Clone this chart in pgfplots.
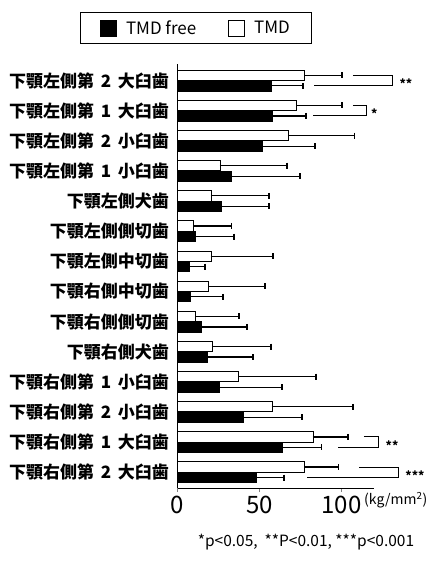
\documentclass[border=0pt]{standalone}
\usepackage{fontspec}
\setmainfont{Noto Sans CJK JP}
\usepackage{pgfplots}
\usepackage{pgfplotstable}
\pgfplotsset{compat=1.18}
% y = category position (0 = bottom) minus/plus half a bar
\pgfplotstableread{
y v e
12.825 57.4 19.1
11.825 57.6 20.8
10.825 52.0 31.8
9.825 33.0 41.7
8.825 27.0 28.8
7.825 10.7 23.8
6.825 7.0 9.8
5.825 8.2 19.6
4.825 14.3 28.1
3.825 18.0 28.0
2.825 25.3 38.4
1.825 40.0 36.0
0.825 63.7 24.3
-0.175 47.9 17.0
}\tmdfree
\pgfplotstableread{
y v e
13.175 77.7 22.6
12.175 72.3 28.0
11.175 67.4 40.6
10.175 25.9 40.9
9.175 20.4 35.4
8.175 9.5 23.5
7.175 20.4 37.8
6.175 18.6 34.8
5.175 10.7 26.8
4.175 21.6 35.4
3.175 37.0 47.5
2.175 57.6 49.4
1.175 82.6 21.4
0.175 77.7 20.3
}\tmd
\newcommand{\gap}{\hspace{0.4em}}
\begin{document}
\begin{tikzpicture}
\useasboundingbox (0pt,0pt) rectangle (432pt,562pt);
\begin{axis}[
 at={(177.5pt,74pt)}, anchor=south west, scale only axis,
 width=196.8pt, height=424pt,
 xmin=0, xmax=120, ymin=-0.52, ymax=13.55,
 clip=false,
 axis x line=bottom, axis y line=left,
 axis line style={-, line width=1pt},
 xtick={0,50,100}, ytick={0,...,13},
 tick align=outside, major tick length=4pt,
 xtick style={line width=0.8pt},
 ytick style={draw=none},
 /pgf/number format/assume math mode=true,
 xticklabel style={font=\fontsize{24}{26}\selectfont, yshift=-1pt},
 yticklabel style={font=\fontsize{17}{18}\selectfont\bfseries, xshift=-1pt},
 yticklabels={
  下顎右側第\gap 2\gap 大臼歯,
  下顎右側第\gap 1\gap 大臼歯,
  下顎右側第\gap 2\gap 小臼歯,
  下顎右側第\gap 1\gap 小臼歯,
  下顎右側犬歯,
  下顎右側側切歯,
  下顎右側中切歯,
  下顎左側中切歯,
  下顎左側側切歯,
  下顎左側犬歯,
  下顎左側第\gap 1\gap 小臼歯,
  下顎左側第\gap 2\gap 小臼歯,
  下顎左側第\gap 1\gap 大臼歯,
  下顎左側第\gap 2\gap 大臼歯},
 legend columns=2,
 legend style={at={(0.094,1.085)}, anchor=center, draw=black, line width=0.9pt,
   font=\fontsize{17}{20}\selectfont, inner xsep=20pt, inner ysep=6pt,
   /tikz/every even column/.append style={column sep=30pt}},
 legend image code/.code={\draw[#1, line width=0.9pt] (0pt,-8pt) rectangle (16pt,8pt); \path (23pt,0pt);},
]
\addplot[xbar, bar width=0.34, bar shift=0, fill=black, draw=black, line width=0.9pt,
  error bars/.cd, x dir=plus, x explicit, error mark=|,
  error bar style={line width=1.2pt, black},
  error mark options={line width=1.3pt, mark size=3pt, black}]
  table[x=v, y=y, x error=e]{\tmdfree};
\addlegendentry{TMD free}
\addplot[xbar, bar width=0.34, bar shift=0, fill=white, draw=black, line width=0.9pt,
  error bars/.cd, x dir=plus, x explicit, error mark=|,
  error bar style={line width=1.2pt, black},
  error mark options={line width=1.3pt, mark size=3pt, black}]
  table[x=v, y=y, x error=e]{\tmd};
\addlegendentry{TMD}
% significance brackets
\addplot[black, line width=1pt, mark=none, forget plot] coordinates {(107,13.175) (130.8,13.175) (130.8,12.825) (83.2,12.825)};
\addplot[black, line width=1pt, mark=none, forget plot] coordinates {(107,12.175) (115.5,12.175) (115.5,11.825) (82.6,11.825)};
\addplot[black, line width=1pt, mark=none, forget plot] coordinates {(113.7,1.175) (122.3,1.175) (122.3,0.825) (97.9,0.825)};
\addplot[black, line width=1pt, mark=none, forget plot] coordinates {(110.7,0.175) (135,0.175) (135,-0.175) (79,-0.175)};
\node[font=\fontsize{12}{12}\selectfont\bfseries, yshift=-3pt] at (axis cs:139.3,13) {**};
\node[font=\fontsize{12}{12}\selectfont\bfseries, yshift=-3pt] at (axis cs:120,12) {*};
\node[font=\fontsize{12}{12}\selectfont\bfseries, yshift=-3pt] at (axis cs:130.8,1) {**};
\node[font=\fontsize{12}{12}\selectfont\bfseries, yshift=-3pt] at (axis cs:144.8,0) {***};
\end{axis}
\node[anchor=west, font=\fontsize{14}{15}\selectfont, inner sep=0pt] at (364pt,62pt) {(kg/mm\textsuperscript{2})};
\node[font=\fontsize{15.5}{17}\selectfont, inner sep=0pt] at (306pt,20pt) {*p<0.05,\ \ **P<0.01, ***p<0.001};
\end{tikzpicture}
\end{document}
